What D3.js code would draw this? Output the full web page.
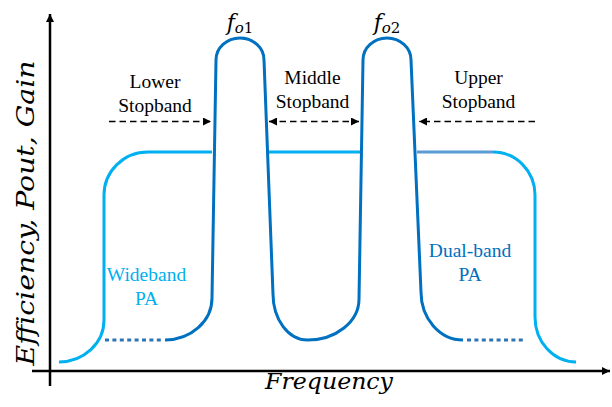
<!DOCTYPE html>
<meta charset="utf-8">
<script src="https://d3js.org/d3.v7.min.js"></script>
<div id="my_dataviz"></div>
<script>

// ---- data (frequency units, level units); "c" marks a rounded corner ----
var wideLeft   = [[1.8,1.8],[10.8,1.8,"c"],[10.8,10.2],[10.8,35.2],[10.8,43.8,"c"],[19.6,43.8],[32.4,43.8]];
var wideMiddle = [[43.6,43.8],[62,43.8]];
var wideShelf  = [[73.4,43.8],[88.6,43.8]];
var wideRight  = [[88.6,43.8],[97,43.8,"c"],[97,35.2],[97,10.8],[97,1.8,"c"],[105.2,1.8]];

var dualBand = [[23,6.2],[32.4,6.2,"c"],[32.4,14.6],[33.2,62.2],[33.2,66.6,"c"],[38,66.6],[42.8,66.6,"c"],[42.8,62.2],
                [44.6,15.4],[44.6,6.2,"c"],[51.5,6.2],[61.8,6.2,"c"],[61.8,14.4],[62.6,62.2],[62.6,66.6,"c"],[67.4,66.6],
                [72.2,66.6,"c"],[72.2,62.2],[74.2,15.8],[74.2,6.2,"c"],[82.6,6.2]];
var dualDotLeft  = [[11,6.2],[22.6,6.2]];
var dualDotRight = [[83.4,6.2],[95,6.2]];

var stopNames  = [["Lower","Stopband"],["Middle","Stopband"],["Upper","Stopband"]];
var stopCenter = [21, 52.5, 85.7];
var stopFrom   = [11.8, 43.8, 97];
var stopTo     = [32.2, 61.8, 73.8];
var stopBoth   = [false, true, false];
var stopLevel  = 49.9;

var peakNames  = ["o1", "o2"];
var peakCenter = [38, 67.4];

// ---- layout ----
var width = 612, height = 407;
var serif = "Liberation Serif", math = "DejaVu Serif";
var svg = d3.select("body").style("margin", "0")
  .select("#my_dataviz").append("svg")
    .attr("width", width).attr("height", height);

var x = d3.scaleLinear().domain([0, 112]).range([50, 610]);
var y = d3.scaleLinear().domain([0, 70]).range([371, 21]);

var K = 0.5523;
function shape(pts) {
  var p = d3.path();
  p.moveTo(x(pts[0][0]), y(pts[0][1]));
  for (var i = 1; i < pts.length; i++) {
    var d = pts[i];
    if (d[2] === "c") {
      var a = pts[i-1], b = pts[i+1];
      var cx = x(d[0]), cy = y(d[1]), ax = x(a[0]), ay = y(a[1]), bx = x(b[0]), by = y(b[1]);
      p.bezierCurveTo(ax + K*(cx-ax), ay + K*(cy-ay), bx + K*(cx-bx), by + K*(cy-by), bx, by);
      i++;
    } else {
      p.lineTo(x(d[0]), y(d[1]));
    }
  }
  return p.toString();
}

// arrow markers
var defs = svg.append("defs");
function marker(id, w, h, color) {
  defs.append("marker").attr("id", id)
      .attr("viewBox", "0 0 10 10").attr("refX", 10).attr("refY", 5)
      .attr("markerUnits", "userSpaceOnUse")
      .attr("markerWidth", w).attr("markerHeight", h)
      .attr("orient", "auto-start-reverse")
    .append("path").attr("d", "M0,0L10,5L0,10z").attr("fill", color);
}
marker("axisHead", 9, 8, "#000");
marker("dashHead", 9, 8, "#000");

// axes
svg.append("line")
    .attr("x1", x(0)).attr("x2", x(0))
    .attr("y1", y(-3)).attr("y2", y(71.4))
    .attr("stroke", "#000").attr("stroke-width", 2.5)
    .attr("marker-end", "url(#axisHead)");
svg.append("line")
    .attr("x1", x(-3.6)).attr("x2", x(112))
    .attr("y1", y(0)).attr("y2", y(0))
    .attr("stroke", "#000").attr("stroke-width", 2.5)
    .attr("marker-end", "url(#axisHead)");

// wideband PA
var lightBlue = "#00B0F0", darkBlue = "#0070C0", midBlue = "#5B9BD5";
[wideLeft, wideMiddle, wideRight].forEach(function (s) {
  svg.append("path").attr("d", shape(s))
      .attr("fill", "none").attr("stroke", lightBlue).attr("stroke-width", 3);
});
svg.append("path").attr("d", shape(wideShelf))
    .attr("fill", "none").attr("stroke", midBlue).attr("stroke-width", 3);

// dual-band PA
svg.append("path").attr("d", shape(dualBand))
    .attr("fill", "none").attr("stroke", darkBlue).attr("stroke-width", 3)
    .attr("stroke-linejoin", "round");
[dualDotLeft, dualDotRight].forEach(function (s) {
  svg.append("path").attr("d", shape(s))
      .attr("fill", "none").attr("stroke", "#2E75B6").attr("stroke-width", 3)
      .attr("stroke-dasharray", "4,3.4");
});

// stopband arrows and labels
stopNames.forEach(function (lines, i) {
  svg.append("line")
      .attr("x1", x(stopFrom[i])).attr("x2", x(stopTo[i]))
      .attr("y1", y(stopLevel)).attr("y2", y(stopLevel))
      .attr("stroke", "#000").attr("stroke-width", 1.6)
      .attr("stroke-dasharray", "6.5,4")
      .attr("marker-end", "url(#dashHead)")
      .attr("marker-start", stopBoth[i] ? "url(#dashHead)" : null);
  var base = i === 0 ? 88 : 84;
  lines.forEach(function (t, j) {
    svg.append("text").attr("font-family", serif)
        .attr("x", x(stopCenter[i])).attr("y", base + j * 23.5)
        .attr("text-anchor", "middle").attr("font-size", 19.5)
        .attr("fill", "#000").text(t);
  });
});

// PA labels
var paText = [
  {lines: ["Wideband", "PA"], fx: 19.3, base: 281, color: lightBlue},
  {lines: ["Dual-band", "PA"], fx: 84, base: 257, color: darkBlue}
];
paText.forEach(function (d) {
  d.lines.forEach(function (t, j) {
    svg.append("text").attr("font-family", serif)
        .attr("x", x(d.fx)).attr("y", d.base + j * 23.5)
        .attr("text-anchor", "middle").attr("font-size", 19.5)
        .attr("fill", d.color).text(t);
  });
});

// peak labels f_o1, f_o2
peakNames.forEach(function (s, i) {
  var t = svg.append("text").attr("font-family", math).attr("font-style", "italic")
      .attr("x", x(peakCenter[i])).attr("y", 30)
      .attr("text-anchor", "middle")
      .attr("fill", "#000");
  t.append("tspan").attr("font-size", 22).text("f");
  t.append("tspan").attr("font-size", 15).attr("dy", 3).text("o");
  t.append("tspan").attr("font-size", 15).attr("font-style", "normal").text(s.slice(1));
});

// axis titles
svg.append("text").attr("font-family", math).attr("font-style", "italic")
    .attr("x", 329).attr("y", 389)
    .attr("text-anchor", "middle")
    .attr("font-size", 23)
    .attr("textLength", 128).attr("lengthAdjust", "spacingAndGlyphs")
    .text("Frequency");

svg.append("text").attr("font-family", math).attr("font-style", "italic")
    .attr("transform", "translate(34,213) rotate(-90)")
    .attr("text-anchor", "middle")
    .attr("font-size", 25)
    .attr("textLength", 305).attr("lengthAdjust", "spacingAndGlyphs")
    .text("Efficiency, Pout, Gain");

</script>
